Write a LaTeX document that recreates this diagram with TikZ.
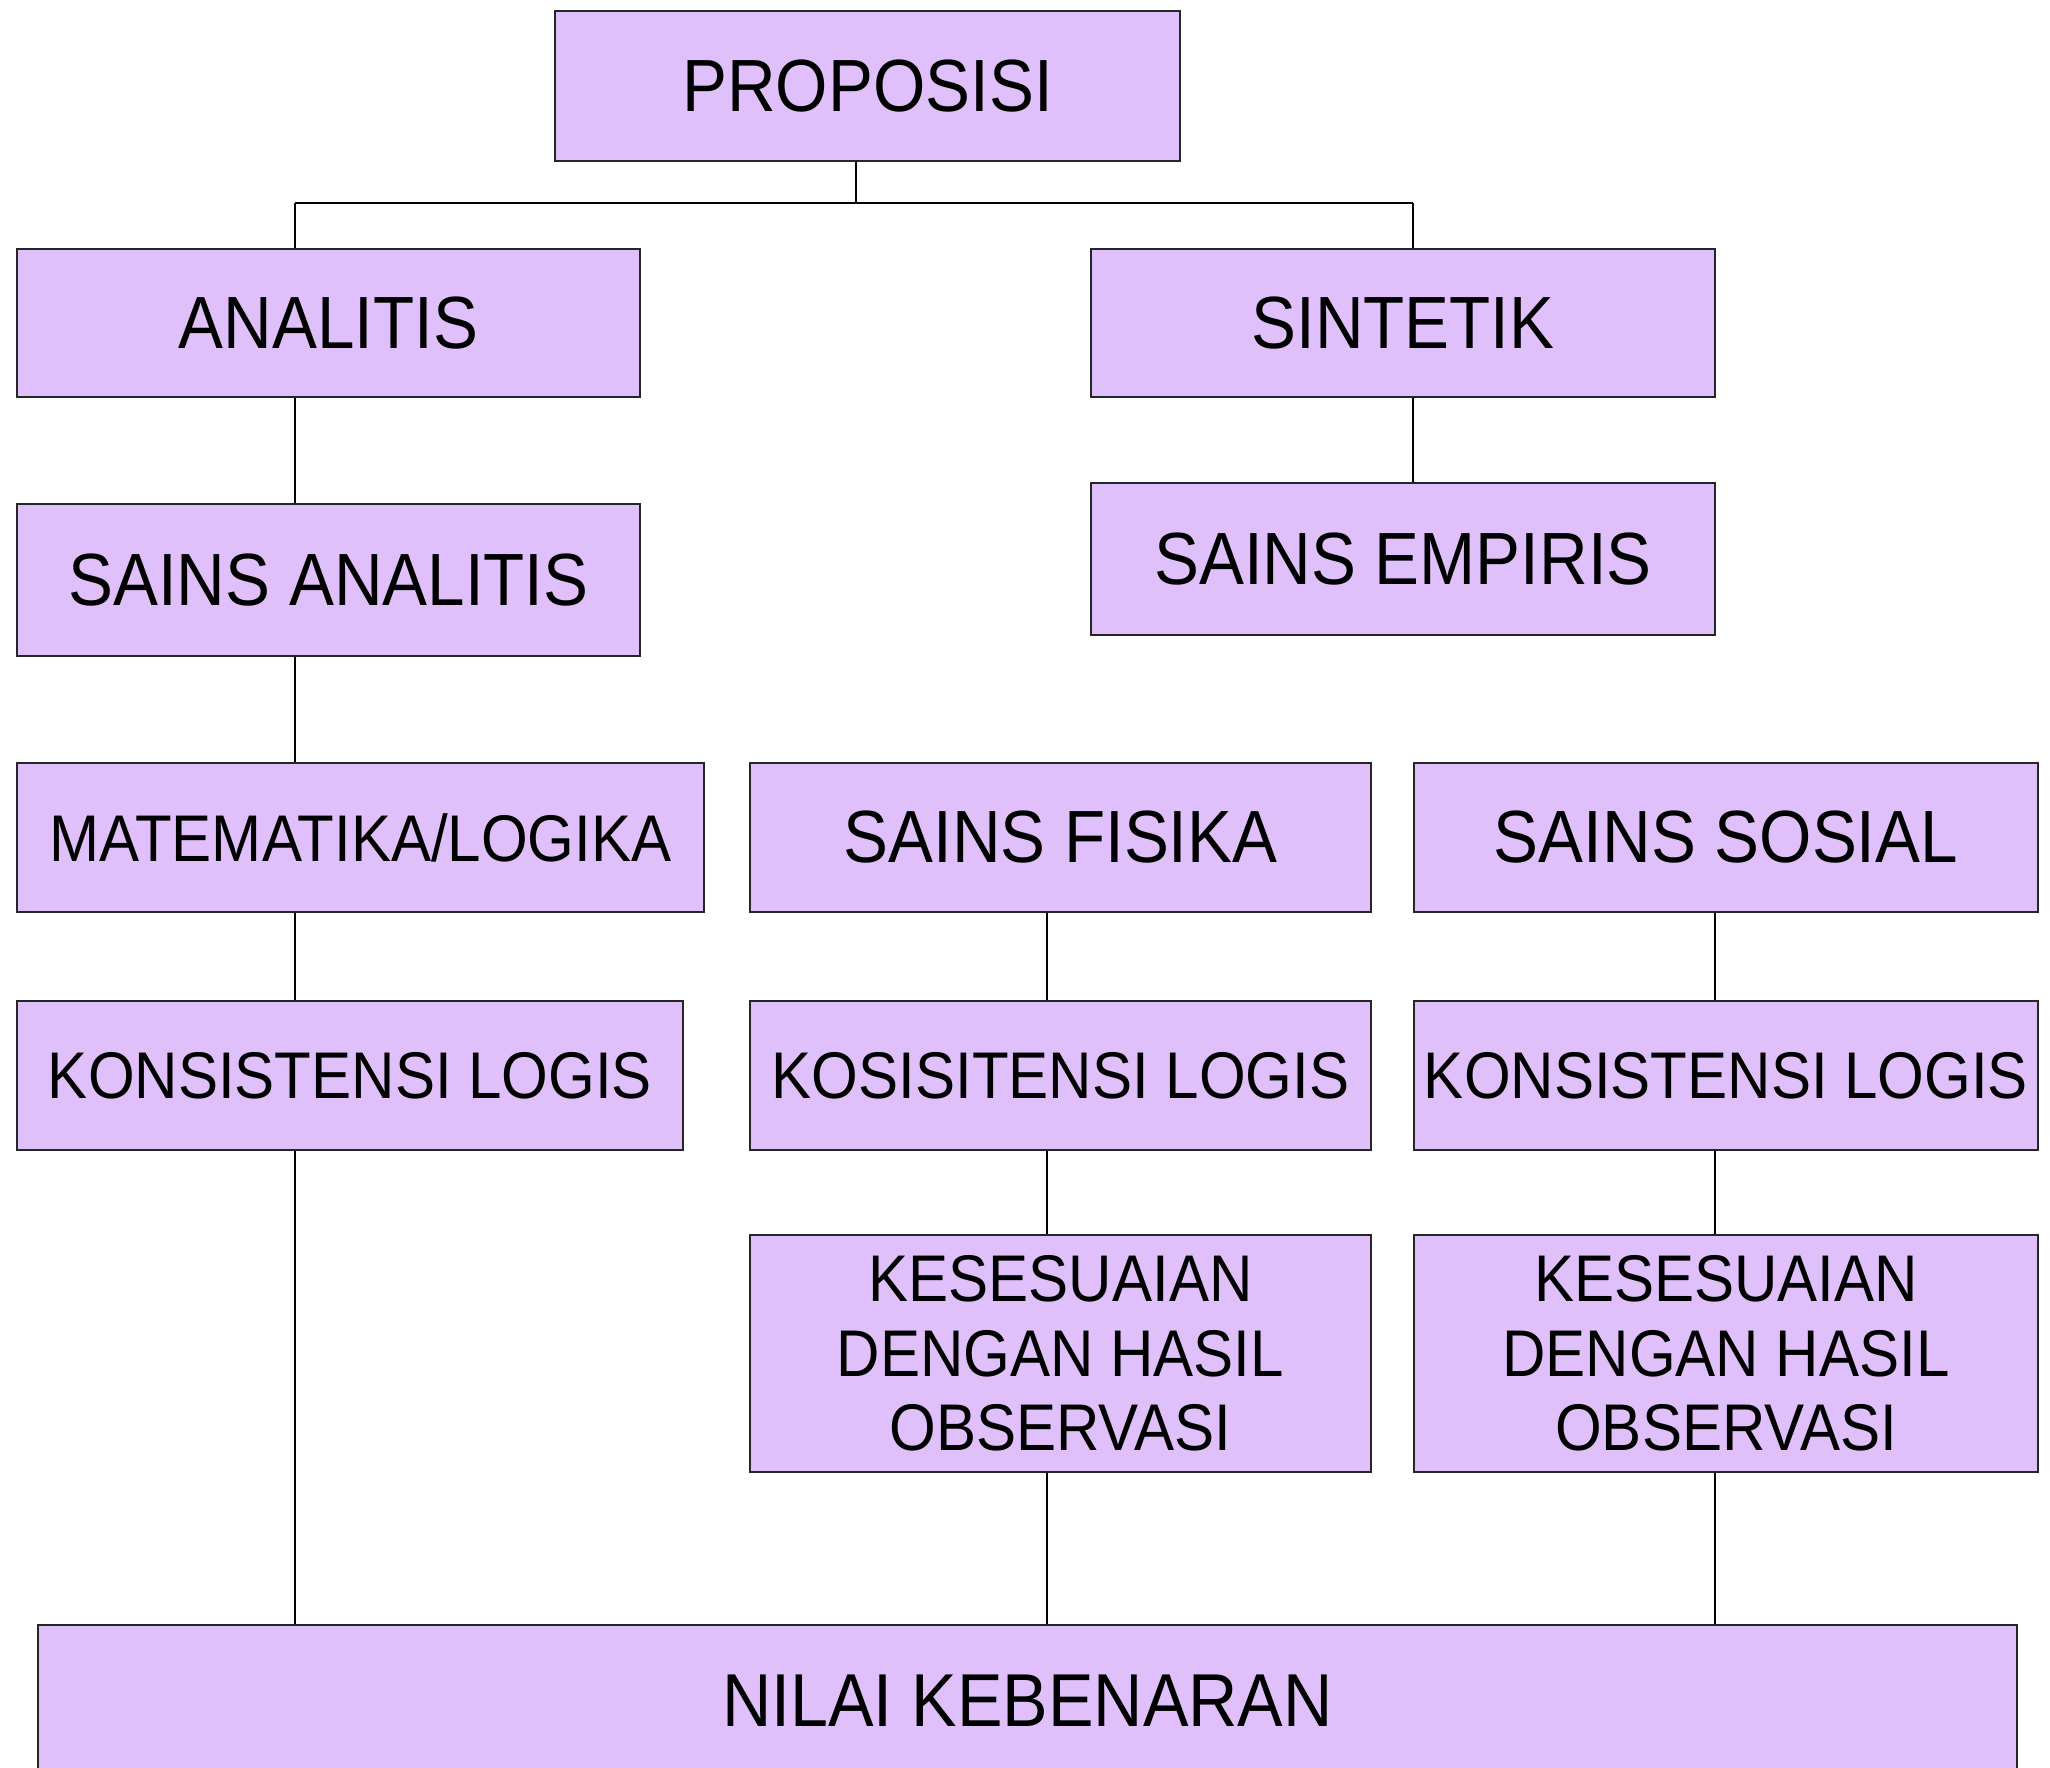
\documentclass[tikz,border=0pt]{standalone}
\usepackage{fontspec}
\setmainfont{Liberation Sans}[FakeStretch=0.91]
\definecolor{boxfill}{RGB}{223,192,250}
\begin{document}
\begin{tikzpicture}[x=1pt,y=-1pt,
  box/.style={draw=black!85, line width=2pt, fill=boxfill, anchor=north west,
    inner sep=0pt, align=center, text=black},
  big/.style={font=\fontsize{74}{82}\selectfont},
  small/.style={font=\fontsize{66}{74.5}\selectfont},
  link/.style={line width=1.6pt, black},
  bus/.style={line width=2.6pt, black, line join=miter}]
\fill[white] (0,0) rectangle (2050,1768);
\useasboundingbox (0,0) rectangle (2050,1768);

% x positions of the vertical connectors, y of the top bus
\coordinate (xP) at (856,0);
\coordinate (xL) at (295,0);
\coordinate (xS) at (1413,0);
\coordinate (xF) at (1047,0);
\coordinate (xR) at (1715,0);
\coordinate (busy) at (0,203);

% boxes
\node[box, big, minimum width=625pt, minimum height=150pt] (prop) at (554,10) {PROPOSISI};
\node[box, big, minimum width=623pt, minimum height=148pt] (ana) at (16,248) {ANALITIS};
\node[box, big, minimum width=624pt, minimum height=148pt] (sin) at (1090,248) {SINTETIK};
\node[box, big, minimum width=623pt, minimum height=152pt] (sana) at (16,503) {SAINS ANALITIS};
\node[box, big, minimum width=624pt, minimum height=152pt] (semp) at (1090,482) {SAINS EMPIRIS};
\node[box, small, minimum width=687pt, minimum height=149pt] (mat) at (16,762) {MATEMATIKA/LOGIKA};
\node[box, big, minimum width=621pt, minimum height=149pt] (fis) at (749,762) {SAINS FISIKA};
\node[box, big, minimum width=624pt, minimum height=149pt] (sos) at (1413,762) {SAINS SOSIAL};
\node[box, small, minimum width=666pt, minimum height=149pt] (kl1) at (16,1000) {KONSISTENSI LOGIS};
\node[box, small, minimum width=621pt, minimum height=149pt] (kl2) at (749,1000) {KOSISITENSI LOGIS};
\node[box, small, minimum width=624pt, minimum height=149pt] (kl3) at (1413,1000) {KONSISTENSI LOGIS};
\node[box, small, minimum width=621pt, minimum height=237pt] (kes1) at (749,1234) {KESESUAIAN\\DENGAN HASIL\\OBSERVASI};
\node[box, small, minimum width=624pt, minimum height=237pt] (kes2) at (1413,1234) {KESESUAIAN\\DENGAN HASIL\\OBSERVASI};
\node[box, font=\fontsize{75}{82}\selectfont, minimum width=1979pt, minimum height=152pt] (nilai) at (37,1624) {NILAI KEBENARAN};

% top split
\draw[link] (prop.south -| xP) -- (xP |- busy);
\draw[bus] (xL |- busy) -- (xS |- busy);
\draw[link] (xL |- busy) -- (ana.north -| xL);
\draw[link] (xS |- busy) -- (sin.north -| xS);

% analytic column
\draw[link] (ana.south -| xL) -- (sana.north -| xL);
\draw[link] (sana.south -| xL) -- (mat.north -| xL);
\draw[link] (mat.south -| xL) -- (kl1.north -| xL);
\draw[link] (kl1.south -| xL) -- (nilai.north -| xL);

% synthetic branch
\draw[link] (sin.south -| xS) -- (semp.north -| xS);

% physical sciences column
\draw[link] (fis.south -| xF) -- (kl2.north -| xF);
\draw[link] (kl2.south -| xF) -- (kes1.north -| xF);
\draw[link] (kes1.south -| xF) -- (nilai.north -| xF);

% social sciences column
\draw[link] (sos.south -| xR) -- (kl3.north -| xR);
\draw[link] (kl3.south -| xR) -- (kes2.north -| xR);
\draw[link] (kes2.south -| xR) -- (nilai.north -| xR);
\end{tikzpicture}
\end{document}
